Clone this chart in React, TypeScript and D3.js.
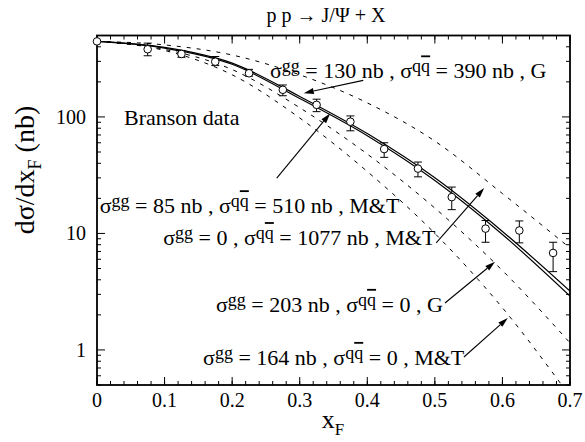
import React from 'react';
import * as d3 from 'd3';

// data points (Branson data)
const DATA_X = [0, 0.075, 0.125, 0.175, 0.225, 0.275, 0.325, 0.375, 0.425, 0.475, 0.525, 0.575, 0.625, 0.675];
const DATA_Y = [445, 381, 347, 298, 237, 171, 127, 91, 53, 36, 20.5, 11.0, 10.6, 6.8];
const DATA_LO = [445, 335, 325, 276, 224, 152, 111, 76, 45, 30.6, 16, 8.4, 8.3, 4.7];
const DATA_HI = [445, 430, 372, 330, 256, 188, 142, 102, 60, 41, 25, 12.9, 12.8, 8.4];

// theory curves, sampled on CURVE_X
const CURVE_X = [0, 0.1, 0.2, 0.3, 0.4, 0.5, 0.6, 0.7];
const SOLID_G = [445, 395, 290, 150, 72, 30, 10.4, 3.2];
const SOLID_MT = [445, 390, 283, 144, 69, 28.5, 9.8, 2.9];
const QQ_MT = [445, 415, 340, 230, 132, 62, 22, 7.5];
const GG_G = [445, 380, 255, 120, 48, 16.5, 4.8, 1.15];
const GG_MT = [445, 372, 230, 98, 34, 10, 2.3, 0.4];

const X_TICKS = [0, 0.1, 0.2, 0.3, 0.4, 0.5, 0.6, 0.7];
const X_TICK_LABELS = ['0', '0.1', '0.2', '0.3', '0.4', '0.5', '0.6', '0.7'];
const Y_TICKS = [1, 10, 100];
const Y_TICK_LABELS = ['1', '10', '100'];

// annotation labels, anchored in data units
const LABELS = [
  { gg: '130 nb', qq: '390 nb', m: 'G', x: 0.256, v: 214 },
  { gg: '85 nb', qq: '510 nb', m: 'M&T', x: 0.004, v: 14.9 },
  { gg: '0', qq: '1077 nb', m: 'M&T', x: 0.098, v: 7.94 },
  { gg: '203 nb', qq: '0', m: 'G', x: 0.176, v: 2.12 },
  { gg: '164 nb', qq: '0', m: 'M&T', x: 0.157, v: 0.743 },
];
// arrows: from [x, v] to [x, v]
const ARROWS = [
  [[0.394, 206], [0.306, 160]],
  [[0.266, 29.8], [0.345, 107]],
  [[0.502, 8.3], [0.573, 24.5]],
  [[0.515, 2.53], [0.589, 5.7]],
  [[0.543, 0.87], [0.608, 1.88]],
];

const W = 585;
const H = 442;
const FONT = "'Liberation Serif', 'Times New Roman', 'DejaVu Serif', serif";

const x = d3.scaleLinear().domain([0, 0.7]).range([97, 570]);
const y = d3.scaleLog().domain([0.5, 500]).range([385, 35.5]);

const line = d3.line<number>()
  .x((_, i) => x(CURVE_X[i]))
  .y((d) => y(d))
  .curve(d3.curveMonotoneX);

const SigmaLabel = ({ d }) => {
  const px = x(d.x);
  const py = y(d.v);
  return (
    <text x={px} y={py} style={{ fontFamily: FONT, fontSize: 22 }}>
      σ<tspan dy={-6} style={{ fontSize: 18 }}>gg</tspan>
      <tspan dy={6}>{` = ${d.gg} , σ`}</tspan>
      <tspan dy={-6} style={{ fontSize: 18 }}>q</tspan>
      <tspan style={{ fontSize: 18, textDecoration: 'overline' }}>q</tspan>
      <tspan dy={6}>{` = ${d.qq} , ${d.m}`}</tspan>
    </text>
  );
};

const Arrow = ({ a }) => {
  const [x1, y1] = [x(a[0][0]), y(a[0][1])];
  const [x2, y2] = [x(a[1][0]), y(a[1][1])];
  const ang = Math.atan2(y2 - y1, x2 - x1);
  const L = 10, Wd = 3;
  const bx = x2 - L * Math.cos(ang), by = y2 - L * Math.sin(ang);
  const p1 = [bx + Wd * Math.sin(ang), by - Wd * Math.cos(ang)];
  const p2 = [bx - Wd * Math.sin(ang), by + Wd * Math.cos(ang)];
  return (
    <g>
      <line x1={x1} y1={y1} x2={bx} y2={by} stroke="#000" strokeWidth={1.1} />
      <path d={`M${x2},${y2}L${p1[0]},${p1[1]}L${p2[0]},${p2[1]}Z`} fill="#000" />
    </g>
  );
};

export default function App() {
  const [x0, x1] = x.range();
  const [yb, yt] = y.range();
  const xMinor = d3.range(0, 0.7001, 0.02);
  const yMinor = [];
  [0.1, 1, 10, 100].forEach((dec) => {
    for (let k = 2; k <= 9; k++) {
      const v = dec * k;
      if (v >= 0.5 && v <= 500) yMinor.push(v);
    }
  });

  const solid = [SOLID_G, SOLID_MT];
  const dashed = [QQ_MT, GG_G, GG_MT];
  const txt = { fontFamily: FONT };

  return (
    <div style={{ position: 'absolute', left: 0, top: 0 }}>
      <svg width={W} height={H} style={{ display: 'block', background: '#fff' }}>
        <defs>
          <clipPath id="plot">
            <rect x={x0} y={yt} width={x1 - x0} height={yb - yt} />
          </clipPath>
        </defs>

        {/* title */}
        <text x={326} y={22} textAnchor="middle" style={{ ...txt, fontSize: 20 }}>
          p p → J/Ψ + X
        </text>

        {/* curves */}
        <g clipPath="url(#plot)" fill="none" stroke="#000">
          {solid.map((c, i) => (
            <path key={'s' + i} d={line(c)} strokeWidth={1.2} />
          ))}
          {dashed.map((c, i) => (
            <path key={'d' + i} d={line(c)} strokeWidth={1} strokeDasharray="4,6" />
          ))}
        </g>

        {/* ticks */}
        <g stroke="#000" strokeWidth={1}>
          {xMinor.map((v, i) => (
            <g key={'xm' + i}>
              <line x1={x(v)} x2={x(v)} y1={yb} y2={yb - 4} />
              <line x1={x(v)} x2={x(v)} y1={yt} y2={yt + 4} />
            </g>
          ))}
          {X_TICKS.map((v, i) => (
            <g key={'xt' + i}>
              <line x1={x(v)} x2={x(v)} y1={yb} y2={yb - 8} />
              <line x1={x(v)} x2={x(v)} y1={yt} y2={yt + 8} />
            </g>
          ))}
          {yMinor.map((v, i) => (
            <g key={'ym' + i}>
              <line x1={x0} x2={x0 + 4} y1={y(v)} y2={y(v)} />
              <line x1={x1} x2={x1 - 4} y1={y(v)} y2={y(v)} />
            </g>
          ))}
          {Y_TICKS.map((v, i) => (
            <g key={'yt' + i}>
              <line x1={x0} x2={x0 + 8} y1={y(v)} y2={y(v)} />
              <line x1={x1} x2={x1 - 8} y1={y(v)} y2={y(v)} />
            </g>
          ))}
        </g>

        {/* frame */}
        <rect x={x0} y={yt} width={x1 - x0} height={yb - yt} fill="none" stroke="#000" strokeWidth={1.8} />

        {/* tick labels */}
        {X_TICKS.map((v, i) => (
          <text key={'xl' + i} x={x(v)} y={407} textAnchor="middle" style={{ ...txt, fontSize: 20 }}>
            {X_TICK_LABELS[i]}
          </text>
        ))}
        {Y_TICKS.map((v, i) => (
          <text key={'yl' + i} x={86} y={y(v) + 7} textAnchor="end" style={{ ...txt, fontSize: 20 }}>
            {Y_TICK_LABELS[i]}
          </text>
        ))}

        {/* axis titles */}
        <text x={333} y={428} textAnchor="middle" style={{ ...txt, fontSize: 26 }}>
          x<tspan dy={7} style={{ fontSize: 17 }}>F</tspan>
        </text>
        <text transform="translate(34,170) rotate(-90)" textAnchor="middle" style={{ ...txt, fontSize: 28 }}>
          dσ/dx<tspan dy={7} style={{ fontSize: 18 }}>F</tspan>
          <tspan dy={-7}> (nb)</tspan>
        </text>

        {/* data */}
        <g stroke="#000" strokeWidth={1} fill="#fff">
          {DATA_X.map((dx, i) => (
            <g key={'p' + i}>
              {DATA_HI[i] !== DATA_LO[i] && (
                <g>
                  <line x1={x(dx)} x2={x(dx)} y1={y(DATA_HI[i])} y2={y(DATA_LO[i])} />
                  <line x1={x(dx) - 4} x2={x(dx) + 4} y1={y(DATA_HI[i])} y2={y(DATA_HI[i])} />
                  <line x1={x(dx) - 4} x2={x(dx) + 4} y1={y(DATA_LO[i])} y2={y(DATA_LO[i])} />
                </g>
              )}
              <circle cx={x(dx)} cy={y(DATA_Y[i])} r={3.8} />
            </g>
          ))}
        </g>

        {/* annotations */}
        <text x={x(0.04)} y={y(85)} style={{ ...txt, fontSize: 22 }}>Branson data</text>
        {LABELS.map((d, i) => (
          <SigmaLabel key={'lab' + i} d={d} />
        ))}
        {ARROWS.map((a, i) => (
          <Arrow key={'ar' + i} a={a} />
        ))}
      </svg>
    </div>
  );
}
